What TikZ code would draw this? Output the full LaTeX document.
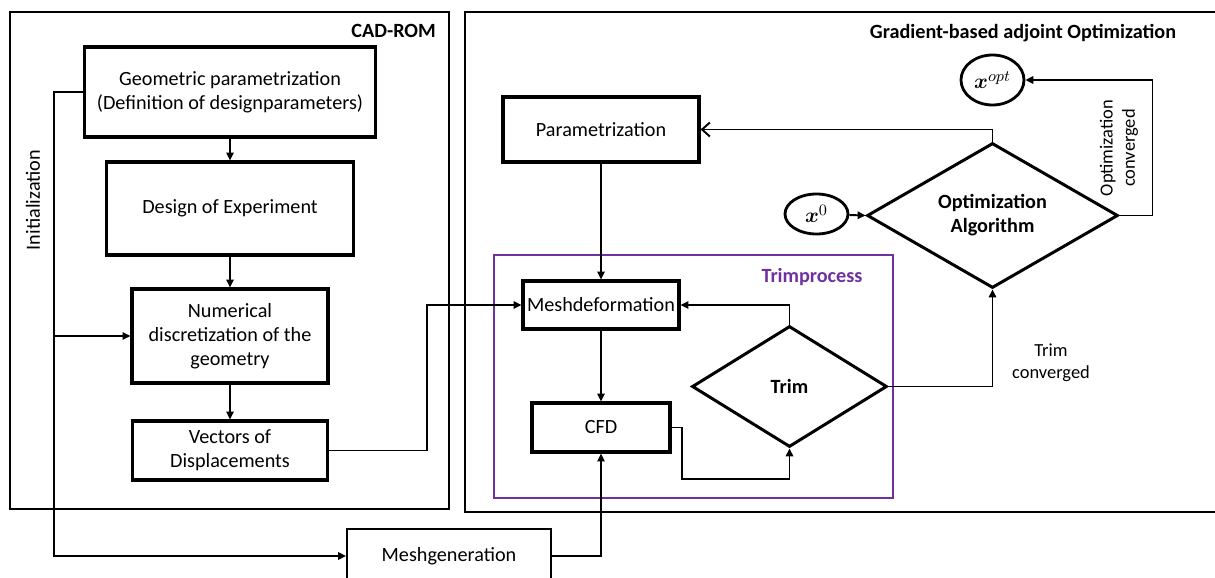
\documentclass[tikz,border=0pt]{standalone}
\usepackage{amsmath,amssymb}
\usepackage{fontspec}
\setmainfont{Carlito}
\usepackage{tikz}
\usetikzlibrary{arrows.meta,shapes.geometric,calc}
\definecolor{trimpurple}{RGB}{112,48,160}
\tikzset{
  pbox/.style={draw=black, line width=1.8pt, align=center, inner sep=1pt, font=\fontsize{11.5}{13.6}\selectfont},
  dec/.style={diamond, draw=black, line width=1.7pt, align=center, inner sep=1pt, aspect=1.7, font=\fontsize{11.5}{13.6}\selectfont\bfseries},
  var/.style={ellipse, draw=black, line width=1.6pt, inner sep=0pt, font=\fontsize{13}{15}\selectfont},
  frame/.style={draw=black, line width=1.1pt},
  flow/.style={-{Triangle[length=4.5pt,width=4.2pt]}, line width=1.1pt},
  back/.style={-{Straight Barb[length=4.5pt,width=8pt]}, line width=1.1pt},
  head/.style={font=\fontsize{11.5}{13.6}\selectfont\bfseries},
  lbl/.style={font=\fontsize{10.5}{12.6}\selectfont, align=center},
}
\begin{document}
\begin{tikzpicture}[x=0.02cm, y=-0.02cm]
  \useasboundingbox (0,0) rectangle (1215,578);

  % CAD-ROM
  \draw[frame] (10,12) rectangle (449,509);
  \node[head, anchor=east] (cadrom) at (442,31) {CAD-ROM};
  \node[pbox, minimum width=5.82cm, minimum height=1.8cm] (geo) at (230,92)
    {Geometric parametrization\\(Definition of designparameters)};
  \node[pbox, minimum width=4.94cm, minimum height=1.86cm] (doe) at (230,208.5) {Design of Experiment};
  \node[pbox, minimum width=3.92cm, minimum height=1.88cm] (num) at (230,336)
    {Numerical\\discretization of the\\geometry};
  \node[pbox, minimum width=3.9cm, minimum height=1.18cm] (vec) at (230,450.5) {Vectors of\\Displacements};
  \node[font=\fontsize{11.5}{13.6}\selectfont, rotate=90] (init) at (33,200) {Initialization};
  \node[pbox, line width=1.1pt, minimum width=4.08cm, minimum height=1.08cm] (mgen) at (449,556) {Meshgeneration};
  \coordinate (inibot) at (54,556);

  % adjoint optimization
  \draw[frame] (465,12) rectangle (1225,512);
  \node[head] (gradopt) at (1023,33) {Gradient-based adjoint Optimization};
  \node[pbox, minimum width=3.92cm, minimum height=1.3cm] (par) at (601,129.5) {Parametrization};
  \node[dec, minimum width=5.02cm, minimum height=2.9cm] (opt) at (992.5,215.5) {Optimization\\Algorithm};
  \node[var, minimum width=1.26cm, minimum height=0.8cm] (xnull) at (816.5,214) {$\boldsymbol{x}^{0}$};
  \node[var, minimum width=1.26cm, minimum height=1.0cm] (xopt) at (992.5,80) {$\boldsymbol{x}^{opt}$};
  \node[lbl, rotate=90] (optconv) at (1119,148) {Optimization\\converged};
  \node[lbl] (trimconv) at (1051,363) {Trim\\converged};

  % trim loop
  \draw[draw=trimpurple, line width=1.2pt] (494,255) rectangle (893,498);
  \node[head, text=trimpurple] (trimlbl) at (812,277) {Trimprocess};
  \node[pbox, minimum width=3.12cm, minimum height=0.96cm] (mdef) at (601,305) {Meshdeformation};
  \node[pbox, minimum width=2.76cm, minimum height=0.98cm] (cfd) at (601,427.5) {CFD};
  \node[dec, minimum width=3.9cm, minimum height=2.42cm] (trim) at (789.5,386.5) {Trim};

  \draw[flow] (geo) -- (doe);
  \draw[flow] (doe) -- (num);
  \draw[flow] (num) -- (vec);
  \draw[flow] (geo.west) -| (inibot) -- (mgen.west);
  \draw[flow] (num.west -| inibot) -- (num.west);
  \draw[flow] (vec.east) -- ++(98,0) |- (mdef.west);
  \draw[-{Triangle[length=4.5pt,width=4.2pt]}, line width=0.8pt] (mgen.east) -| (cfd.south);
  \draw[flow] (par) -- (mdef);
  \draw[flow] (mdef) -- (cfd);
  \draw[flow] (cfd.east) -- ++(10,0) -- ++(0,51.5) -| (trim.south);
  \draw[flow] (trim.north) |- (mdef.east);
  \draw[flow] (trim.east) -| (opt.south);
  \draw[back] (opt.north) |- (par.east);
  \draw[flow] (xnull) -- (opt.west);
  \draw[flow] (opt.east) -- ++(33,0) |- (xopt.east);
\end{tikzpicture}
\end{document}
